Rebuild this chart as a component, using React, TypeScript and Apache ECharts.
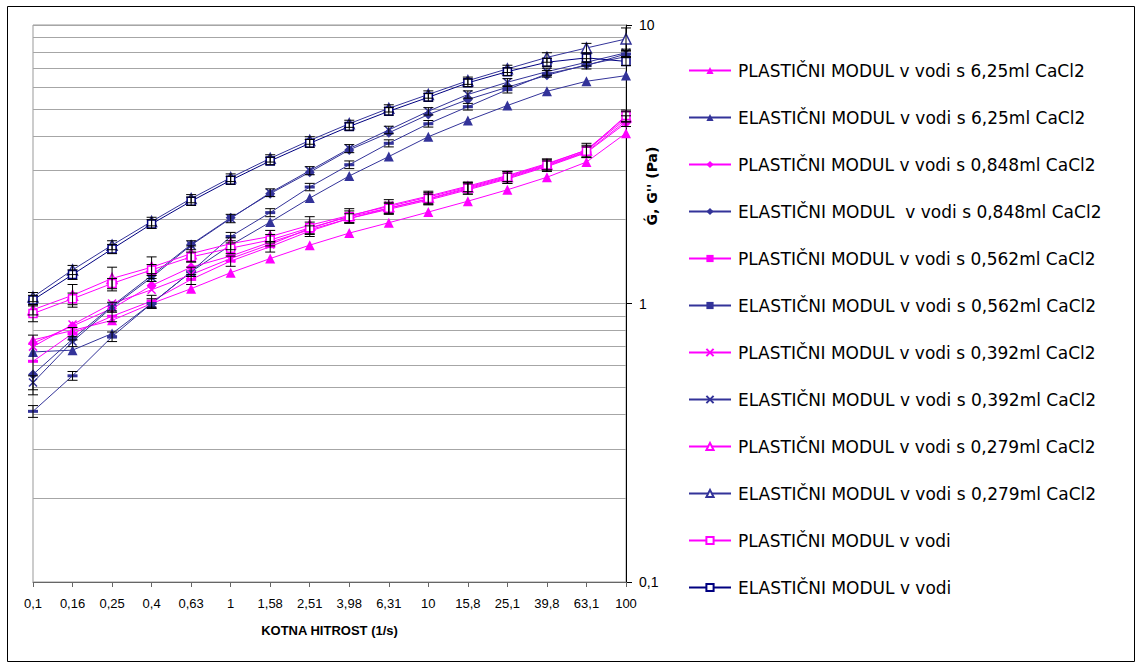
import React, { useEffect, useRef } from "react";
import * as echarts from "echarts";

// Angular velocity categories (1/s)
const categories = ["0,1", "0,16", "0,25", "0,4", "0,63", "1", "1,58", "2,51", "3,98", "6,31", "10", "15,8", "25,1", "39,8", "63,1", "100"];

// Moduli G', G'' (Pa)
const plastic625 = [0.74, 0.8, 0.87, 1.0, 1.13, 1.29, 1.45, 1.62, 1.79, 1.95, 2.13, 2.33, 2.56, 2.84, 3.22, 4.09];
const elastic625 = [0.67, 0.68, 0.78, 1.0, 1.3, 1.62, 1.96, 2.39, 2.87, 3.37, 3.97, 4.54, 5.14, 5.78, 6.28, 6.58];
const plastic0848 = [0.72, 0.83, 0.96, 1.16, 1.35, 1.48, 1.66, 1.84, 2.02, 2.18, 2.35, 2.56, 2.8, 3.1, 3.48, 4.45];
const elastic0848 = [0.556, 0.745, 0.98, 1.26, 1.63, 2.03, 2.48, 2.96, 3.56, 4.1, 4.77, 5.4, 5.98, 6.6, 7.2, 7.7];
const plastic0562 = [0.62, 0.78, 0.9, 1.02, 1.22, 1.42, 1.6, 1.82, 2.02, 2.2, 2.37, 2.58, 2.82, 3.12, 3.5, 4.52];
const elastic0562 = [0.41, 0.55, 0.76, 1.0, 1.3, 1.74, 2.12, 2.62, 3.15, 3.76, 4.42, 5.09, 5.86, 6.68, 7.15, 7.87];
const plastic0392 = [0.7, 0.84, 1.0, 1.12, 1.27, 1.45, 1.63, 1.86, 2.06, 2.25, 2.43, 2.64, 2.88, 3.18, 3.55, 4.6];
const elastic0392 = [0.52, 0.73, 0.97, 1.24, 1.62, 2.02, 2.5, 3.0, 3.6, 4.2, 4.9, 5.63, 6.23, 6.8, 7.35, 7.95];
const plastic0279 = [0.95, 1.07, 1.23, 1.35, 1.51, 1.64, 1.74, 1.91, 2.07, 2.23, 2.41, 2.62, 2.86, 3.16, 3.56, 4.68];
const elastic0279 = [1.055, 1.32, 1.62, 1.97, 2.38, 2.83, 3.32, 3.85, 4.42, 5.02, 5.63, 6.31, 6.96, 7.65, 8.27, 8.91];
const plasticWater = [0.92, 1.04, 1.18, 1.32, 1.47, 1.58, 1.69, 1.87, 2.05, 2.2, 2.38, 2.6, 2.84, 3.14, 3.52, 4.73];
const elasticWater = [1.03, 1.27, 1.57, 1.93, 2.33, 2.77, 3.25, 3.76, 4.32, 4.9, 5.5, 6.2, 6.8, 7.35, 7.62, 7.4];

// Standard deviations (half-widths of the error bars)
const errElasticWater = [0.04, 0.05, 0.06, 0.07, 0.08, 0.09, 0.1, 0.12, 0.13, 0.15, 0.17, 0.19, 0.21, 0.24, 0.26, 0.25];
const errPlasticWater = [0.06, 0.05, 0.05, 0.06, 0.06, 0.07, 0.08, 0.09, 0.1, 0.11, 0.12, 0.13, 0.14, 0.16, 0.18, 0.22];
const errElastic0279 = [0.04, 0.05, 0.06, 0.07, 0.08, 0.09, 0.1, 0.12, 0.13, 0.15, 0.17, 0.19, 0.21, 0.3, 0.32, 0.85];
const errPlastic0279 = [0.04, 0.1, 0.12, 0.12, 0.1, 0.08, 0.09, 0.14, 0.12, 0.13, 0.12, 0.1, 0.12, 0.14, 0.2, 0.2];
const errPlastic0562 = [0.15, 0.04, 0.04, 0.05, 0.05, 0.06, 0.07, 0.08, 0.08, 0.09, 0.1, 0.11, 0.12, 0.13, 0.15, 0.2];
const errElastic0562 = [0.02, 0.02, 0.03, 0.04, 0.05, 0.06, 0.07, 0.08, 0.1, 0.11, 0.12, 0.14, 0.16, 0.18, 0.2, 0.22];
const errElastic0392 = [0.03, 0.03, 0.04, 0.04, 0.06, 0.07, 0.08, 0.1, 0.12, 0.13, 0.15, 0.17, 0.19, 0.2, 0.22, 0.24];

// Intermediate gridlines of the logarithmic value axis
const minorGrid = [0.2, 0.3, 0.4, 0.5, 0.6, 0.7, 0.8, 0.9, 2, 3, 4, 5, 6, 7, 8, 9];

const MAGENTA = "#FF00FF";
const BLUE = "#333399";
const NAVY = "#000080";
const FONT = "'Liberation Sans', Arial, sans-serif";
const WIDE_FONT = "'DejaVu Sans', 'Liberation Sans', sans-serif";
const CROSS = "path://M0,0L10,10M10,0L0,10";

type Spec = {
  name: string;
  data: number[];
  color: string;
  symbol: string;
  size: number | number[];
  hollow?: boolean;
  cross?: boolean;
};

const specs: Spec[] = [
  { name: "PLASTIČNI MODUL v vodi s 6,25ml CaCl2", data: plastic625, color: MAGENTA, symbol: "triangle", size: 10 },
  { name: "ELASTIČNI MODUL v vodi s 6,25ml CaCl2", data: elastic625, color: BLUE, symbol: "triangle", size: 10 },
  { name: "PLASTIČNI MODUL v vodi s 0,848ml CaCl2", data: plastic0848, color: MAGENTA, symbol: "diamond", size: 10 },
  { name: "ELASTIČNI MODUL  v vodi s 0,848ml CaCl2", data: elastic0848, color: BLUE, symbol: "diamond", size: 10 },
  { name: "PLASTIČNI MODUL v vodi s 0,562ml CaCl2", data: plastic0562, color: MAGENTA, symbol: "rect", size: [10, 3] },
  { name: "ELASTIČNI MODUL v vodi s 0,562ml CaCl2", data: elastic0562, color: BLUE, symbol: "rect", size: [10, 3] },
  { name: "PLASTIČNI MODUL v vodi s 0,392ml CaCl2", data: plastic0392, color: MAGENTA, symbol: CROSS, size: 8, cross: true },
  { name: "ELASTIČNI MODUL v vodi s 0,392ml CaCl2", data: elastic0392, color: BLUE, symbol: CROSS, size: 8, cross: true },
  { name: "PLASTIČNI MODUL v vodi s 0,279ml CaCl2", data: plastic0279, color: MAGENTA, symbol: "triangle", size: 10, hollow: true },
  { name: "ELASTIČNI MODUL v vodi s 0,279ml CaCl2", data: elastic0279, color: BLUE, symbol: "triangle", size: 10, hollow: true },
  { name: "PLASTIČNI MODUL v vodi", data: plasticWater, color: MAGENTA, symbol: "rect", size: 8, hollow: true },
  { name: "ELASTIČNI MODUL v vodi", data: elasticWater, color: NAVY, symbol: "rect", size: 8, hollow: true },
];

const errorSets: [number[], number[]][] = [
  [elasticWater, errElasticWater],
  [plasticWater, errPlasticWater],
  [elastic0279, errElastic0279],
  [plastic0279, errPlastic0279],
  [plastic0562, errPlastic0562],
  [elastic0562, errElastic0562],
  [elastic0392, errElastic0392],
];

function buildOption() {
  const lineSeries = specs.map((s, idx) => ({
    name: s.name,
    type: "line",
    data: s.data,
    symbol: s.symbol,
    symbolSize: s.size,
    showSymbol: true,
    z: 3,
    lineStyle: { color: s.color, width: 1 },
    itemStyle: s.cross
      ? { color: s.color, borderColor: s.color, borderWidth: 1.5 }
      : s.hollow
      ? { color: "#ffffff", borderColor: s.color, borderWidth: 1.5 }
      : { color: s.color, borderColor: s.color, borderWidth: 0 },
    emphasis: { disabled: true },
    markLine:
      idx === 0
        ? {
            silent: true,
            symbol: "none",
            label: { show: false },
            lineStyle: { color: "#a6a6a6", type: "solid", width: 1 },
            z: 1,
            data: minorGrid.map((v) => ({ yAxis: v })),
          }
        : undefined,
  }));

  const errData: number[][] = [];
  errorSets.forEach(([vals, errs]) => {
    vals.forEach((v, i) => {
      errData.push([i, v - errs[i], v + errs[i]]);
    });
  });

  const errorSeries = {
    name: "errorBars",
    type: "custom",
    z: 4,
    silent: true,
    encode: { x: 0, y: [1, 2] },
    data: errData,
    renderItem: (_params: any, api: any) => {
      const i = api.value(0);
      const top = api.coord([i, api.value(2)]);
      const bot = api.coord([i, api.value(1)]);
      const w = 5;
      const style = { stroke: "#000", lineWidth: 1 };
      return {
        type: "group",
        children: [
          { type: "line", shape: { x1: top[0], y1: top[1], x2: bot[0], y2: bot[1] }, style },
          { type: "line", shape: { x1: top[0] - w, y1: top[1], x2: top[0] + w, y2: top[1] }, style },
          { type: "line", shape: { x1: bot[0] - w, y1: bot[1], x2: bot[0] + w, y2: bot[1] }, style },
        ],
      };
    },
  };

  return {
    animation: false,
    backgroundColor: "#ffffff",
    textStyle: { fontFamily: FONT },
    grid: { left: 33, right: 511, top: 25, bottom: 82, show: true, borderColor: "#999999", borderWidth: 1 },
    legend: {
      orient: "vertical",
      left: 683,
      top: 57,
      itemGap: 30,
      itemWidth: 42,
      itemHeight: 9,
      data: specs.map((s) => s.name),
      textStyle: { fontSize: 17, color: "#000", fontFamily: WIDE_FONT, padding: [0, 0, 0, 2] },
      selectedMode: false,
    },
    xAxis: {
      type: "category",
      data: categories,
      boundaryGap: false,
      axisLine: { lineStyle: { color: "#666666", width: 1 } },
      axisTick: { show: true, alignWithLabel: true, length: 5, lineStyle: { color: "#666666" } },
      axisLabel: { interval: 0, fontSize: 13, color: "#000", margin: 15, fontFamily: FONT },
      splitLine: { show: false },
      name: "KOTNA HITROST (1/s)",
      nameLocation: "middle",
      nameGap: 42,
      nameTextStyle: { fontSize: 13, fontWeight: "bold", color: "#000", fontFamily: FONT },
    },
    yAxis: {
      type: "log",
      logBase: 10,
      min: 0.1,
      max: 10,
      position: "right",
      axisLine: { show: true, lineStyle: { color: "#000", width: 1 } },
      axisTick: { show: true, length: 6, lineStyle: { color: "#000" } },
      axisLabel: {
        fontSize: 14,
        color: "#000",
        margin: 13,
        fontFamily: FONT,
        formatter: (v: number) => String(v).replace(".", ","),
      },
      splitLine: { show: true, lineStyle: { color: "#a6a6a6", width: 1 } },
      minorTick: { show: false },
    },
    graphic: [
      {
        type: "rect",
        left: 5,
        top: 4,
        shape: { width: 1127, height: 655 },
        style: { fill: "none", stroke: "#000", lineWidth: 1 },
        silent: true,
        z: 0,
      },
      {
        type: "text",
        x: 652,
        y: 186,
        rotation: Math.PI / 2,
        style: {
          text: "Ǵ, G'' (Pa)",
          fontSize: 14,
          fontWeight: "bold",
          fontFamily: WIDE_FONT,
          fill: "#000",
          align: "center",
          verticalAlign: "middle",
        },
        silent: true,
      },
    ],
    series: [...lineSeries, errorSeries],
  };
}

export default function App() {
  const ref = useRef<HTMLDivElement>(null);
  useEffect(() => {
    if (!ref.current) return;
    const chart = echarts.init(ref.current, undefined, { renderer: "svg" });
    chart.setOption(buildOption() as any);
    return () => chart.dispose();
  }, []);
  return (
    <div
      ref={ref}
      style={{ position: "fixed", left: 0, top: 0, width: 1137, height: 664, background: "#fff" }}
    />
  );
}
